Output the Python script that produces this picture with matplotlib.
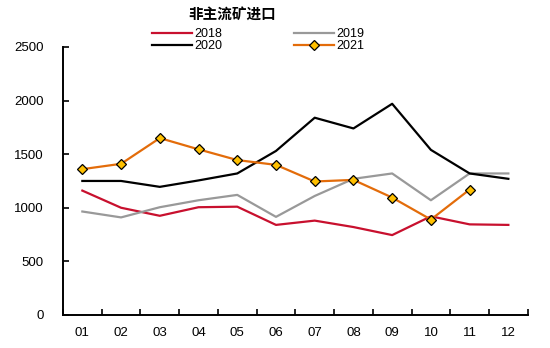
import matplotlib
matplotlib.use("Agg")
import matplotlib.pyplot as plt
import numpy as np

plt.rcParams['font.family'] = ['Liberation Sans', 'Noto Sans CJK SC', 'DejaVu Sans']

months = ['01', '02', '03', '04', '05', '06', '07', '08', '09', '10', '11', '12']
y2018 = [1160, 1000, 925, 1005, 1010, 840, 880, 820, 745, 920, 845, 840]
y2019 = [965, 910, 1005, 1070, 1120, 915, 1110, 1270, 1320, 1070, 1320, 1320]
y2020 = [1250, 1250, 1195, 1255, 1320, 1530, 1840, 1740, 1970, 1540, 1320, 1270]
y2021 = [1360, 1410, 1650, 1545, 1445, 1400, 1245, 1260, 1095, 890, 1170]

fig = plt.figure(figsize=(5.5, 3.48), dpi=100)
ax = fig.add_axes([0.1145, 0.095, 0.845, 0.77])

x = np.arange(len(months))
ax.plot(x, y2018, color='#C8102E', lw=1.6, label='2018')
ax.plot(x, y2019, color='#999999', lw=1.6, label='2019')
ax.plot(x, y2020, color='black', lw=1.6, label='2020')
ax.plot(x[:len(y2021)], y2021, color='#E36C0A', lw=1.6, marker='D', ms=5.5,
        mfc='#FFC000', mec='black', mew=0.9, label='2021')

ax.set_xlim(-0.5, len(months) - 0.5)
ax.set_ylim(0, 2500)
ax.set_yticks(np.arange(0, 2501, 500))
ax.set_xticks(x)
ax.set_xticklabels(months)
ax.set_xticks(np.arange(-0.5, len(months), 1), minor=True)
ax.tick_params(axis='x', which='major', length=0, pad=9, labelsize=9.5)
ax.tick_params(axis='x', which='minor', direction='in', length=4, width=1.2)
ax.tick_params(axis='y', direction='in', length=4, width=1.2, labelsize=9.5, pad=14)

for s in ['top', 'right']:
    ax.spines[s].set_visible(False)
for s in ['left', 'bottom']:
    ax.spines[s].set_linewidth(1.4)

fig.text(0.422, 0.957, '非主流矿进口', ha='center', va='center', fontsize=10.5,
         fontweight='bold', family=['Noto Sans CJK SC'])

handles, labels = ax.get_legend_handles_labels()
order = [0, 2, 1, 3]
ax.legend([handles[i] for i in order], [labels[i] for i in order], ncol=2,
          frameon=False, fontsize=9, loc='center', bbox_to_anchor=(0.42, 1.025),
          handlelength=3.2, columnspacing=5.7, labelspacing=0.0, handletextpad=0.2,
          borderpad=0)

fig.savefig('out.png', dpi=100)
